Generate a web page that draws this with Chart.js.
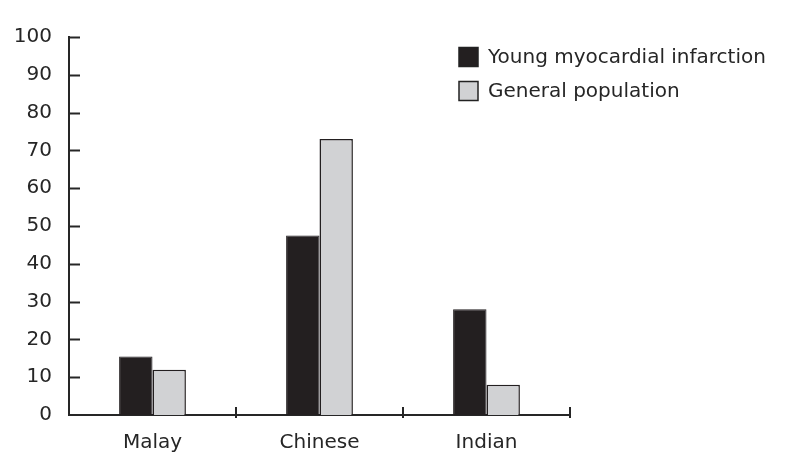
<!DOCTYPE html>
<html>
<head>
<meta charset="utf-8">
<script src="https://cdn.jsdelivr.net/npm/chart.js@4/dist/chart.umd.min.js"></script>
<style>
  html, body { margin: 0; padding: 0; background: #fff; }
  #wrap { width: 787px; height: 468px; }
</style>
</head>
<body>
<div id="wrap"><canvas id="chart" width="787" height="468"></canvas></div>
<script>
const groups = ['Malay', 'Chinese', 'Indian'];
const youngMI = [15.5, 47.5, 28];
const generalPop = [12, 73, 8];
const yTicks = [0, 10, 20, 30, 40, 50, 60, 70, 80, 90, 100];

const ink = '#262626';
const font = { family: 'DejaVu Sans', size: 20 };

// inward tick marks on both axes, plus the legend box in the upper right
const axisMarks = {
  id: 'axisMarks',
  afterDraw(chart) {
    const c = chart.ctx;
    const x = chart.scales.x, y = chart.scales.y;
    const area = chart.chartArea;
    c.save();
    c.strokeStyle = ink;
    c.lineWidth = 2;
    y.ticks.forEach(t => {
      const py = Math.round(y.getPixelForValue(t.value)) + 0.5;
      if (t.value === 0) return;
      c.beginPath();
      c.moveTo(area.left, py);
      c.lineTo(area.left + 11, py);
      c.stroke();
    });
    const step = x.getPixelForValue(1) - x.getPixelForValue(0);
    for (let i = 0; i < groups.length; i++) {
      const px = Math.round(x.getPixelForValue(i) + step / 2);
      c.beginPath();
      c.moveTo(px, area.bottom - 8);
      c.lineTo(px, area.bottom + 3);
      c.stroke();
    }
    // legend
    c.font = font.size + 'px ' + font.family;
    c.textBaseline = 'middle';
    chart.data.datasets.forEach((ds, i) => {
      const cy = 57 + i * 34;
      c.fillStyle = ds.backgroundColor;
      c.fillRect(459, cy - 9.5, 19, 19);
      c.lineWidth = 1.5;
      c.strokeStyle = '#222';
      c.strokeRect(459, cy - 9.5, 19, 19);
      c.fillStyle = ink;
      c.fillText(ds.label, 488, cy + 1);
    });
    c.restore();
  }
};

new Chart(document.getElementById('chart'), {
  type: 'bar',
  data: {
    labels: groups,
    datasets: [
      { label: 'Young myocardial infarction', data: youngMI, backgroundColor: '#231f20', borderColor: '#231f20', borderWidth: 1 },
      { label: 'General population', data: generalPop, backgroundColor: '#d1d2d4', borderColor: '#231f20', borderWidth: 1.5 },
    ],
  },
  options: {
    responsive: false,
    animation: false,
    devicePixelRatio: 1,
    layout: { padding: { left: 0, top: 37, right: 217, bottom: 0 } },
    plugins: { legend: { display: false }, tooltip: { enabled: false } },
    datasets: { bar: { categoryPercentage: 0.4, barPercentage: 1.0 } },
    scales: {
      x: {
        grid: { display: false },
        border: { display: true, color: ink, width: 2 },
        ticks: { color: ink, font: font, padding: 8 },
        afterFit: s => { s.height = 53; },
      },
      y: {
        min: 0,
        max: 100,
        afterBuildTicks: s => { s.ticks = yTicks.map(v => ({ value: v })); },
        grid: { display: false },
        border: { display: true, color: ink, width: 2 },
        ticks: { color: ink, font: font, padding: 9 },
        afterFit: s => { s.width = 69; },
      },
    },
  },
  plugins: [axisMarks],
});
</script>
</body>
</html>
